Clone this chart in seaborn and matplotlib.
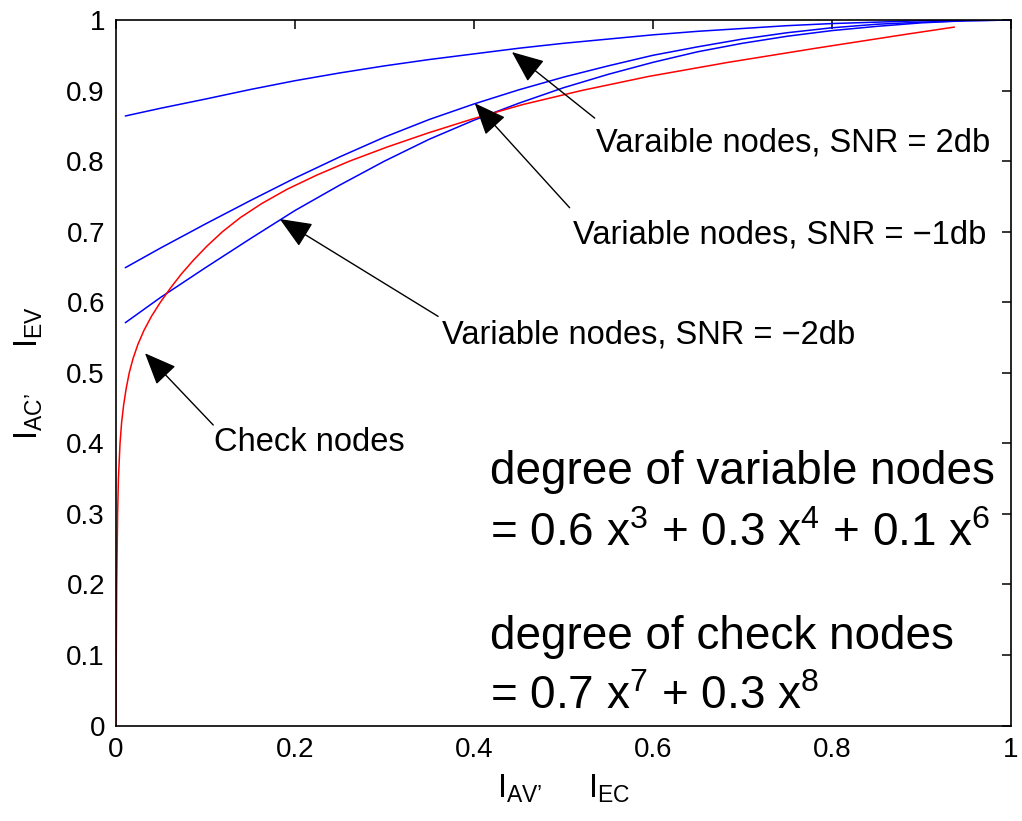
import matplotlib
matplotlib.use("Agg")
import matplotlib.pyplot as plt
import seaborn as sns
import pandas as pd

# EXIT chart data: variable-node curves for three SNRs and the check-node curve
vn_x = [0.0104, 0.05, 0.1, 0.15, 0.2, 0.25, 0.3, 0.35, 0.4, 0.45, 0.5,
        0.55, 0.6, 0.65, 0.7, 0.75, 0.8, 0.85, 0.9, 0.95, 1.0]
vn_2db = [0.864, 0.875, 0.888, 0.9015, 0.914, 0.925, 0.935, 0.944, 0.952, 0.960, 0.967,
          0.973, 0.979, 0.984, 0.988, 0.992, 0.995, 0.997, 0.999, 1.0, 1.0]
vn_m1db = [0.649, 0.677, 0.711, 0.744, 0.776, 0.806, 0.834, 0.859, 0.881, 0.901, 0.919,
           0.935, 0.950, 0.962, 0.973, 0.982, 0.989, 0.994, 0.997, 0.999, 1.0]
vn_m2db = [0.571, 0.607, 0.649, 0.690, 0.730, 0.766, 0.800, 0.831, 0.858, 0.882, 0.904,
           0.923, 0.940, 0.955, 0.967, 0.977, 0.985, 0.991, 0.996, 0.999, 1.0]

cn_x = [0.0, 0.0003, 0.0008, 0.0018, 0.0027, 0.0045, 0.0063, 0.0086, 0.0114, 0.0148,
        0.0190, 0.0244, 0.0312, 0.0396, 0.0496, 0.0608, 0.0730, 0.0868, 0.1020, 0.1190,
        0.1390, 0.1630, 0.1910, 0.2240, 0.2610, 0.3030, 0.3490, 0.3990, 0.4540, 0.5200,
        0.5950, 0.6840, 0.7820, 0.8840, 0.9370]
cn_y = [0.0, 0.1, 0.2, 0.3, 0.35, 0.4, 0.43, 0.455, 0.478, 0.5,
        0.52, 0.54, 0.56, 0.58, 0.60, 0.62, 0.64, 0.66, 0.68, 0.70,
        0.72, 0.74, 0.76, 0.78, 0.80, 0.82, 0.84, 0.86, 0.88, 0.90,
        0.92, 0.94, 0.96, 0.98, 0.99]

x_ticks = [0, 0.2, 0.4, 0.6, 0.8, 1]
y_ticks = [0, 0.1, 0.2, 0.3, 0.4, 0.5, 0.6, 0.7, 0.8, 0.9, 1]

sns.set_style("white")
plt.rcParams["font.family"] = ["Liberation Sans", "DejaVu Sans"]
plt.rcParams["mathtext.fontset"] = "custom"
plt.rcParams["mathtext.rm"] = "Liberation Sans"
plt.rcParams["mathtext.it"] = "Liberation Sans:italic"
plt.rcParams["mathtext.bf"] = "Liberation Sans:bold"
plt.rcParams["text.color"] = "black"
plt.rcParams["axes.labelcolor"] = "black"
plt.rcParams["xtick.color"] = "black"
plt.rcParams["ytick.color"] = "black"

fig = plt.figure(figsize=(10.22, 8.21), dpi=100)
ax = fig.add_axes([0.1135, 0.1162, 0.8755, 0.8594])

lw = 1.1
for ys in (vn_2db, vn_m1db, vn_m2db):
    df = pd.DataFrame({"x": vn_x, "y": ys})
    sns.lineplot(data=df, x="x", y="y", ax=ax, color="#0000ff", lw=lw,
                 sort=False, estimator=None)
dfc = pd.DataFrame({"x": cn_x, "y": cn_y})
sns.lineplot(data=dfc, x="x", y="y", ax=ax, color="#ff0000", lw=lw,
             sort=False, estimator=None)

ax.set_xlim(0, 1)
ax.set_ylim(0, 1)
ax.set_xticks(x_ticks)
ax.set_xticklabels([f"{t:g}" for t in x_ticks])
ax.set_yticks(y_ticks)
ax.set_yticklabels([f"{t:g}" for t in y_ticks])
ax.tick_params(direction="in", length=6.5, width=1.1, labelsize=20,
               top=True, right=True, pad=8, colors="black")
for s in ax.spines.values():
    s.set_visible(True)
    s.set_color("black")
    s.set_linewidth(1.2)

ax.set_xlabel(r"$\mathregular{I_{AV’}\ \ \ \ \ I_{EC}}$", fontsize=23.5, labelpad=7)
ax.set_ylabel(r"$\mathregular{I_{AC’}\ \ \ \ \ I_{EV}}$", fontsize=23.5, labelpad=15)

arrow = dict(arrowstyle="-|>,head_length=1.0,head_width=0.42", color="black",
             lw=1.0, shrinkA=0, shrinkB=0, mutation_scale=20)
notes = [
    ("Varaible nodes, SNR = 2db", (0.4425, 0.9546), (0.535, 0.861), (0.537, 0.826)),
    ("Variable nodes, SNR = \u22121db", (0.401, 0.882), (0.507, 0.734), (0.511, 0.696)),
    ("Variable nodes, SNR = \u22122db", (0.183, 0.718), (0.360, 0.580), (0.364, 0.5535)),
    ("Check nodes", (0.0324, 0.5277), (0.1087, 0.426), (0.1095, 0.4007)),
]
for label, tip, tail, pos in notes:
    ax.annotate("", xy=tip, xytext=tail, arrowprops=arrow)
    ax.text(pos[0], pos[1], label, fontsize=23.5, ha="left", va="center")

big = 33
ax.text(0.418, 0.360, "degree of variable nodes", fontsize=big, ha="left", va="center")
ax.text(0.418, 0.271,
        r"= 0.6 x$\mathregular{^3}$ + 0.3 x$\mathregular{^4}$ + 0.1 x$\mathregular{^6}$",
        fontsize=big, ha="left", va="center")
ax.text(0.418, 0.126, "degree of check nodes", fontsize=big, ha="left", va="center")
ax.text(0.418, 0.041, r"= 0.7 x$\mathregular{^7}$ + 0.3 x$\mathregular{^8}$",
        fontsize=big, ha="left", va="center")

fig.savefig("out.png", dpi=100, facecolor="white")
